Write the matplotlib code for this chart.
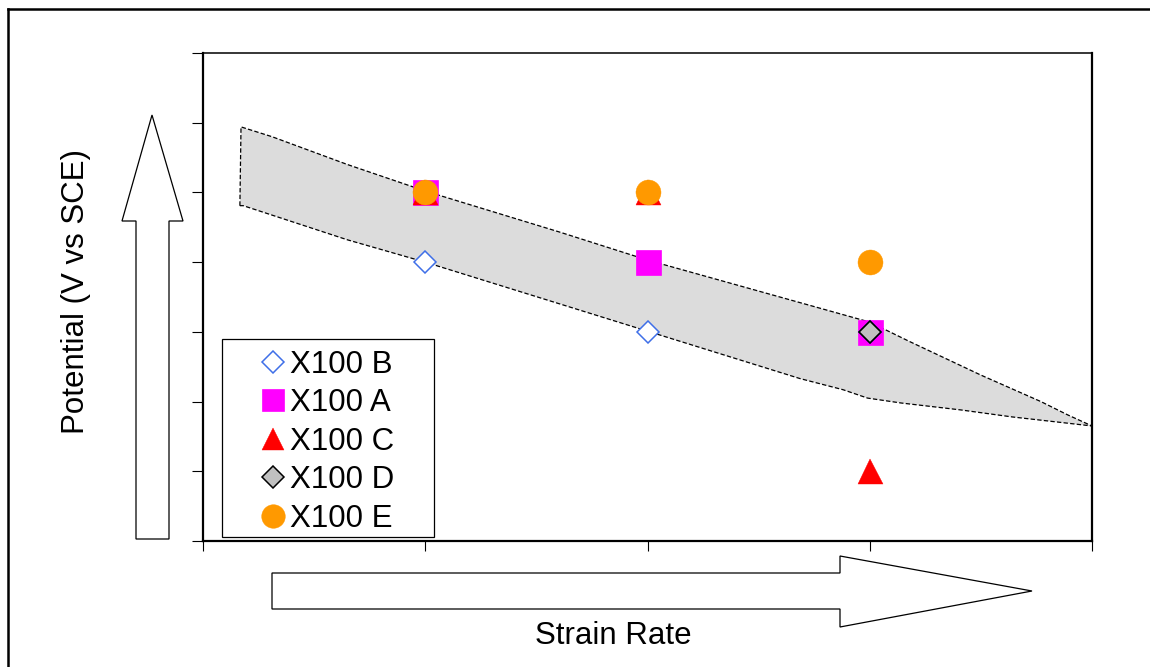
import matplotlib
matplotlib.use("Agg")
import matplotlib.pyplot as plt
from matplotlib.patches import Polygon, Rectangle
from matplotlib.lines import Line2D

plt.rcParams['font.family'] = ['Liberation Sans', 'DejaVu Sans']

# ---------------- data ----------------
series_names = ["X100 B", "X100 A", "X100 C", "X100 D", "X100 E"]
b_x = [1, 2, 3]
b_y = [4, 3, 3]
a_x = [1, 2, 3]
a_y = [5, 4, 3]
c_x = [1, 2, 3]
c_y = [5, 5, 1]
d_x = [1, 2, 3]
d_y = [5, 5, 3]
e_x = [1, 2, 3]
e_y = [5, 5, 4]

# shaded band (upper edge left->right, lower edge left->right)
band_upper_x = [0.166, 0.171, 0.31, 0.65, 1.0, 1.606, 2.0, 3.0, 3.18, 3.26, 3.50, 3.77, 3.89, 4.0]
band_upper_y = [4.81, 5.94, 5.80, 5.40, 5.02, 4.43, 4.03, 3.14, 2.86, 2.74, 2.38, 2.00, 1.81, 1.65]
band_lower_x = [0.181, 0.65, 1.0, 1.606, 2.0, 2.686, 2.88, 2.99, 3.14, 3.41, 3.64, 3.89, 4.0]
band_lower_y = [4.81, 4.32, 4.0, 3.40, 3.01, 2.33, 2.17, 2.05, 1.98, 1.88, 1.78, 1.69, 1.65]

x_ticks = [0, 1, 2, 3, 4]
y_ticks = [0, 1, 2, 3, 4, 5, 6, 7]

# ---------------- figure ----------------
W, H = 1150, 667
fig = plt.figure(figsize=(W / 100, H / 100), dpi=100)

def fx(x):
    return x / W

def fy(y):
    return 1 - y / H

ax = fig.add_axes([fx(203), fy(541), fx(1092) - fx(203), fy(53) - fy(541)])
ax.set_xlim(0, 4)
ax.set_ylim(0, 7)
ax.set_xticks(x_ticks)
ax.set_yticks(y_ticks)
ax.set_xticklabels([])
ax.set_yticklabels([])
ax.tick_params(axis='y', direction='out', length=8.2, width=0.8, color='black')
ax.tick_params(axis='x', direction='out', length=7.4, width=0.8, color='black')
for side in ['left', 'bottom', 'right']:
    ax.spines[side].set_linewidth(1.6)
ax.spines['top'].set_linewidth(1.1)

# band
poly_x = band_upper_x + band_lower_x[::-1]
poly_y = band_upper_y + band_lower_y[::-1]
band = Polygon(list(zip(poly_x, poly_y)), closed=True, facecolor='#dcdcdc',
               edgecolor='black', linewidth=0.9, linestyle=(0, (3.5, 1.8)), zorder=1)
ax.add_patch(band)

# markers
ax.plot(a_x, a_y, linestyle='none', marker='s', ms=18, mfc='#ff00ff', mec='#ff00ff', mew=0.5, zorder=3)
ax.plot(b_x, b_y, linestyle='none', marker='D', ms=11.5, mfc='white', mec='#3f6fe8', mew=1.1, zorder=4)
ax.plot(c_x, c_y, linestyle='none', marker='^', ms=18, mfc='#ff0000', mec='#ff0000', mew=0.3, zorder=5)
ax.plot(d_x, d_y, linestyle='none', marker='D', ms=11.5, mfc='#c0c0c0', mec='black', mew=1.2, zorder=6)
ax.plot(e_x, e_y, linestyle='none', marker='o', ms=18, mfc='#ff9900', mec='#ff9900', mew=0.3, zorder=7)

# legend box
ax.add_patch(Rectangle((fx(222), fy(537)), fx(434) - fx(222), fy(339) - fy(537),
                       transform=fig.transFigure, facecolor='white', clip_on=False,
                       edgecolor='black', linewidth=0.9, zorder=9))

# legend
handles = [
    Line2D([], [], linestyle='none', marker='D', ms=11, mfc='white', mec='#3f6fe8', mew=1.1),
    Line2D([], [], linestyle='none', marker='s', ms=16.5, mfc='#ff00ff', mec='#ff00ff', mew=0.5),
    Line2D([], [], linestyle='none', marker='^', ms=16, mfc='#ff0000', mec='#ff0000', mew=0.3),
    Line2D([], [], linestyle='none', marker='D', ms=11, mfc='#c0c0c0', mec='black', mew=1.1),
    Line2D([], [], linestyle='none', marker='o', ms=17, mfc='#ff9900', mec='#ff9900', mew=0.3),
]
leg = ax.legend(handles, series_names, loc='upper left',
                bbox_to_anchor=(fx(261), fy(350)), bbox_transform=fig.transFigure,
                frameon=False, borderpad=0, borderaxespad=0, fontsize=22.5,
                handlelength=0.77, handletextpad=0.16, labelspacing=0.27, numpoints=1)
leg.set_zorder(10)

# vertical arrow
v_arrow = [(136, 539), (169, 539), (169, 221), (183, 221), (152, 115),
           (122, 221), (136, 221)]
fig.patches.append(Polygon([(fx(x), fy(y)) for x, y in v_arrow], closed=True,
                           transform=fig.transFigure, facecolor='white',
                           edgecolor='black', linewidth=0.9))
# horizontal arrow
h_arrow = [(272, 573), (840, 573), (840, 556), (1032, 591), (840, 627),
           (840, 609), (272, 609)]
fig.patches.append(Polygon([(fx(x), fy(y)) for x, y in h_arrow], closed=True,
                           transform=fig.transFigure, facecolor='white',
                           edgecolor='black', linewidth=0.9))

# outer frame (left and top edges)
fig.add_artist(Line2D([fx(8), fx(8)], [fy(9), fy(670)], transform=fig.transFigure,
                      color='black', linewidth=1.8))
fig.add_artist(Line2D([fx(8), fx(1152)], [fy(9), fy(9)], transform=fig.transFigure,
                      color='black', linewidth=1.8))

# labels
fig.text(fx(76), fy(291), "Potential (V vs SCE)", rotation=90, ha='center', va='center',
         fontsize=22.5)
fig.text(fx(613), fy(636), "Strain Rate", ha='center', va='center', fontsize=22.5)

fig.savefig("out.png", dpi=100)
